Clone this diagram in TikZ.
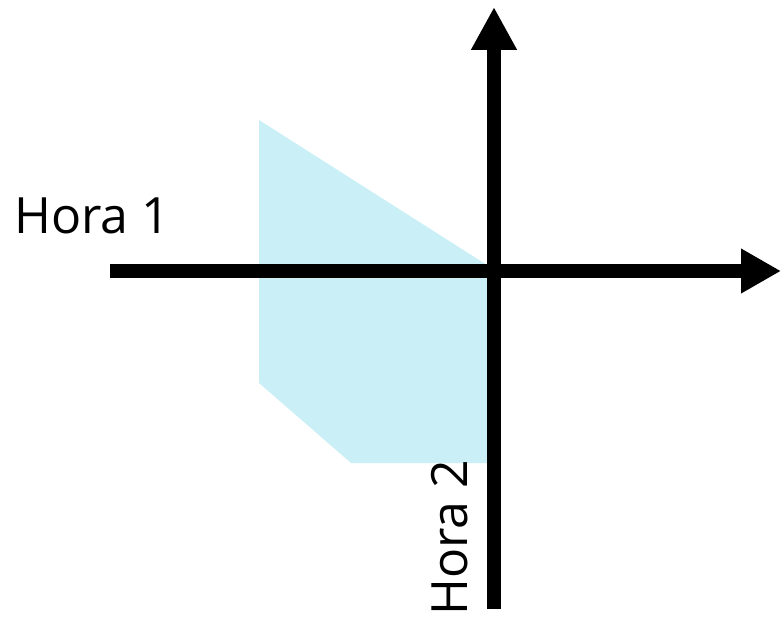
\documentclass[tikz,border=0pt]{standalone}
\usepackage{fontspec}
\setmainfont{Open Sans}
\usetikzlibrary{arrows.meta}
\definecolor{regionfill}{HTML}{CAEFF6}
\tikzset{
  axisline/.style={line width=14pt, draw=black},
  axlabel/.style={font=\fontsize{50}{58}\selectfont, inner sep=0pt, text=black},
  region/.style={fill=regionfill, draw=none}
}
\begin{document}
\begin{tikzpicture}[x=1pt,y=-1pt]
\useasboundingbox (0,0) rectangle (781,618);
% shaded region
\fill[region] (259,120) -- (487,265) -- (487,463) -- (351,463) -- (259,383) -- cycle;
% axes
\coordinate (O) at (494,271);
\coordinate (xs) at (110,271);
\coordinate (xe) at (781,271);
\coordinate (yb) at (494,609);
\coordinate (yt) at (494,7);
\draw[axisline, -{Triangle[length=40pt,width=42pt]}] (xs) -- (xe);
\draw[axisline, -{Triangle[length=43pt,width=43pt]}] (yb) -- (yt);
% labels
\node[axlabel, anchor=base west] (h1) at (14,233) {Hora 1};
\node[axlabel, anchor=base west, rotate=90] (h2) at (467,616) {Hora 2};
\end{tikzpicture}
\end{document}
